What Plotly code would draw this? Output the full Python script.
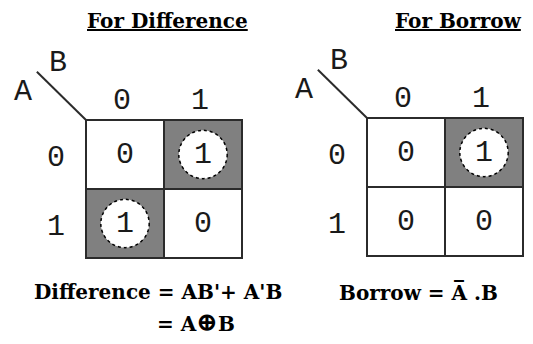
import plotly.graph_objects as go

# Karnaugh map data (rows = A, columns = B)
row_labels = ['0', '1']
col_labels = ['0', '1']
difference_map = [[0, 1], [1, 0]]
borrow_map = [[0, 1], [0, 0]]
titles = ['For Difference', 'For Borrow']
row_var, col_var = 'A', 'B'
difference_eq = ["Difference = AB'+ A'B",
                 "= A<span style='font-size:26px'>\u2295</span>B"]
borrow_eq = "Borrow = A\u0305 .B"

W, H = 533, 344
OFF = 8  # the page body adds an 8px margin, so shift everything back

# grid placement in pixels: left, right, top, bottom
grids = [(86, 242, 120, 258), (367, 523, 118, 256)]
maps = [difference_map, borrow_map]
title_x = [167, 458]

GREY = '#808080'
EDGE = '#2b2b2b'
DIGIT_FONT = dict(family='Liberation Mono', size=30, color='#1a1a1a')
BOLD_FONT = dict(family='DejaVu Serif', size=20, color='black')

x_lo, x_hi = -1.48, 1.55
y_lo, y_hi = -1.6, 1.55


def px(p):
    return min(max((p - OFF) / W, 0), 1)


def py(p):
    return min(max(1 - (p - OFF) / H, 0), 1)


fig = go.Figure()
shapes, annotations = [], []

for k, (values, (left, right, top, bottom)) in enumerate(zip(maps, grids)):
    ux = (right - left) / 2
    uy = (bottom - top) / 2
    x0, x1 = left + (x_lo + 0.5) * ux, left + (x_hi + 0.5) * ux
    y0, y1 = top + (y_lo + 0.5) * uy, top + (y_hi + 0.5) * uy
    sfx = '' if k == 0 else str(k + 1)
    xa, ya = 'x' + sfx, 'y' + sfx

    fig.add_trace(go.Heatmap(
        z=values, x=[0, 1], y=[0, 1], xaxis=xa, yaxis=ya,
        colorscale=[[0, 'white'], [1, GREY]], zmin=0, zmax=1,
        showscale=False, hoverinfo='skip'))

    fig.update_layout(**{
        'xaxis' + sfx: dict(domain=[px(x0), px(x1)], range=[x_lo, x_hi],
                            visible=False, fixedrange=True),
        'yaxis' + sfx: dict(domain=[py(y1), py(y0)], range=[y_hi, y_lo],
                            visible=False, fixedrange=True),
    })

    for i, row in enumerate(values):
        for j, v in enumerate(row):
            shapes.append(dict(type='rect', xref=xa, yref=ya,
                               x0=j - 0.5, x1=j + 0.5, y0=i - 0.5, y1=i + 0.5,
                               line=dict(color=EDGE, width=2)))
            if v == 1:
                shapes.append(dict(type='circle', xref=xa, yref=ya,
                                   x0=j - 0.31, x1=j + 0.31,
                                   y0=i - 0.35, y1=i + 0.35,
                                   fillcolor='white',
                                   line=dict(color='black', width=1.5, dash='dot')))
            annotations.append(dict(x=j, y=i, xref=xa, yref=ya, text=str(v),
                                    showarrow=False, font=DIGIT_FONT))

    # row / column headings
    for i, lab in enumerate(row_labels):
        annotations.append(dict(x=-0.88, y=i + 0.05, xref=xa, yref=ya, text=lab,
                                showarrow=False, font=DIGIT_FONT))
    for j, lab in enumerate(col_labels):
        annotations.append(dict(x=j - 0.04, y=-0.78, xref=xa, yref=ya, text=lab,
                                showarrow=False, font=DIGIT_FONT))

    # corner diagonal with variable names
    shapes.append(dict(type='line', xref=xa, yref=ya, x0=-1.13, y0=-1.2,
                       x1=-0.5, y1=-0.5, line=dict(color=EDGE, width=2)))
    annotations.append(dict(x=-0.86, y=-1.32, xref=xa, yref=ya, text=col_var,
                            showarrow=False, font=DIGIT_FONT))
    annotations.append(dict(x=-1.31, y=-0.9, xref=xa, yref=ya, text=row_var,
                            showarrow=False, font=DIGIT_FONT))

    # heading
    annotations.append(dict(x=px(title_x[k]), y=py(21), xref='paper',
                            yref='paper', xanchor='center', yanchor='middle',
                            text='<b><u>' + titles[k] + '</u></b>',
                            showarrow=False, font=BOLD_FONT))

# output equations
annotations.append(dict(x=px(158), y=py(292), xref='paper', yref='paper',
                        xanchor='center', yanchor='middle',
                        text='<b>' + difference_eq[0] + '</b>', showarrow=False,
                        font=BOLD_FONT))
annotations.append(dict(x=px(155), y=py(322), xref='paper', yref='paper',
                        xanchor='left', yanchor='middle',
                        text='<b>' + difference_eq[1] + '</b>',
                        showarrow=False, font=BOLD_FONT))
annotations.append(dict(x=px(418), y=py(292), xref='paper', yref='paper',
                        xanchor='center', yanchor='middle',
                        text='<b>' + borrow_eq + '</b>', showarrow=False,
                        font=BOLD_FONT))

fig.update_layout(width=W, height=H, margin=dict(l=0, r=0, t=0, b=0),
                  paper_bgcolor='white', plot_bgcolor='white',
                  shapes=shapes, annotations=annotations, showlegend=False)

fig.write_html("out.html")
